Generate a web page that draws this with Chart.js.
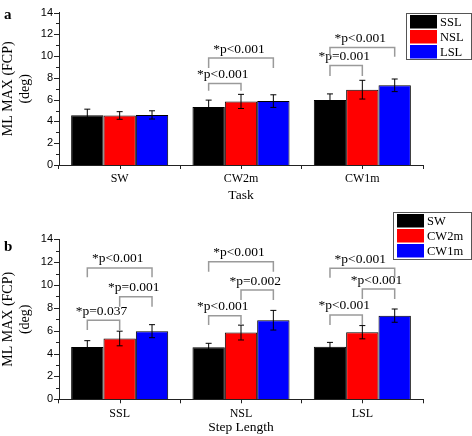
<!DOCTYPE html>
<html>
<head>
<meta charset="utf-8">
<script src="https://cdn.jsdelivr.net/npm/chart.js@4.4.1/dist/chart.umd.min.js"></script>
<style>
  body { margin: 0; background: #fff; }
  canvas { display: block; }
</style>
</head>
<body>
<canvas id="chartA" width="472" height="210"></canvas>
<canvas id="chartB" width="472" height="226"></canvas>
<script>
// ML MAX (FCP) in degrees
var tasks = ['SW', 'CW2m', 'CW1m'];
var stepLengths = ['SSL', 'NSL', 'LSL'];
var yTickLabels = [0, 2, 4, 6, 8, 10, 12, 14];

// means and SD per step length, across tasks SW, CW2m, CW1m
var sslMean = [4.58, 5.32, 5.96];
var nslMean = [4.55, 5.84, 6.92];
var lslMean = [4.60, 5.87, 7.32];
var sslErr = [0.55, 0.64, 0.57];
var nslErr = [0.35, 0.65, 0.86];
var lslErr = [0.38, 0.58, 0.58];

// significance brackets: [group, fromBar, toBar, level, leftLegEnd, rightLegEnd, text]
var bracketsA = [
    [1, 0, 1, 7.48, 6.81, 6.81, '*p<0.001'],
    [1, 0, 2, 9.82, 8.90, 8.90, '*p<0.001'],
    [2, 0, 1, 9.14, 8.18, 8.18, '*p=0.001'],
    [2, 0, 2, 10.8, 10.0, 9.95, '*p<0.001']
];
var bracketsB = [
    [0, 0, 1, 6.91, 6.06, 6.06, '*p=0.037'],
    [0, 1, 2, 8.98, 8.10, 8.10, '*p=0.001'],
    [0, 0, 2, 11.49, 10.67, 10.67, '*p<0.001'],
    [1, 0, 1, 7.31, 6.50, 6.50, '*p<0.001'],
    [1, 1, 2, 9.56, 8.69, 8.69, '*p=0.002'],
    [1, 0, 2, 12.04, 11.16, 11.16, '*p<0.001'],
    [2, 0, 1, 7.38, 6.50, 6.50, '*p<0.001'],
    [2, 1, 2, 9.65, 8.78, 8.78, '*p<0.001'],
    [2, 0, 2, 11.46, 10.64, 10.64, '*p<0.001']
];

var colors = ['#000000', '#ff0000', '#0000ff'];
var serif = "'Liberation Serif', 'Times New Roman', serif";

function col(rows, j) {
    return rows.map(function (r) { return r[j]; });
}

// draws error bars, brackets, extra ticks, legend and panel letter
var extras = {
    id: 'extras',
    afterDatasetsDraw: function (chart, args, o) {
        var ctx = chart.ctx, y = chart.scales.y, x = chart.scales.x;
        ctx.save();
        ctx.strokeStyle = '#000';
        ctx.lineWidth = 1;
        chart.data.datasets.forEach(function (ds, i) {
            chart.getDatasetMeta(i).data.forEach(function (bar, j) {
                var t = y.getPixelForValue(ds.data[j] + ds.errors[j]);
                var b = y.getPixelForValue(ds.data[j] - ds.errors[j]);
                ctx.beginPath();
                ctx.moveTo(bar.x, t); ctx.lineTo(bar.x, b);
                ctx.moveTo(bar.x - 3, t); ctx.lineTo(bar.x + 3, t);
                ctx.moveTo(bar.x - 3, b); ctx.lineTo(bar.x + 3, b);
                ctx.stroke();
            });
        });

        // significance brackets
        ctx.strokeStyle = '#9a9a9a';
        ctx.lineWidth = 1.5;
        ctx.fillStyle = '#000';
        ctx.font = '13.5px ' + serif;
        ctx.textAlign = 'center';
        ctx.textBaseline = 'alphabetic';
        o.brackets.forEach(function (br) {
            var x1 = chart.getDatasetMeta(br[1]).data[br[0]].x;
            var x2 = chart.getDatasetMeta(br[2]).data[br[0]].x;
            var ly = y.getPixelForValue(br[3]);
            ctx.beginPath();
            ctx.moveTo(x1, y.getPixelForValue(br[4]));
            ctx.lineTo(x1, ly);
            ctx.lineTo(x2, ly);
            ctx.lineTo(x2, y.getPixelForValue(br[5]));
            ctx.stroke();
            ctx.fillText(br[6], (x1 + x2) / 2 - 2, ly - 5.5);
        });

        // y ticks: long on even values, short on odd
        ctx.strokeStyle = '#222';
        ctx.lineWidth = 1;
        for (var v = 0; v <= 14; v++) {
            var py = Math.round(y.getPixelForValue(v)) + 0.5;
            var len = v % 2 ? 3 : 5;
            ctx.beginPath();
            ctx.moveTo(y.right - len, py);
            ctx.lineTo(y.right, py);
            ctx.stroke();
        }
        // x ticks at category centres
        chart.data.labels.forEach(function (l, i) {
            var px = Math.round(x.getPixelForValue(i)) + 0.5;
            ctx.beginPath();
            ctx.moveTo(px, x.top);
            ctx.lineTo(px, x.top + 4);
            ctx.stroke();
        });

        // legend box
        var L = o.legend;
        ctx.fillStyle = '#fff';
        ctx.fillRect(L.x, L.y, L.w, L.h);
        ctx.strokeStyle = '#555';
        ctx.strokeRect(L.x + 0.5, L.y + 0.5, L.w, L.h);
        ctx.font = '12.5px ' + serif;
        ctx.textAlign = 'left';
        ctx.textBaseline = 'middle';
        chart.data.datasets.forEach(function (ds, i) {
            var sy = L.y + 2 + i * 15;
            ctx.fillStyle = ds.backgroundColor;
            ctx.fillRect(L.x + 4, sy, 27, 13.5);
            ctx.fillStyle = '#000';
            ctx.fillText(ds.label, L.x + 34, sy + 7.5);
        });

        // panel letter
        ctx.font = 'bold 15px ' + serif;
        ctx.fillText(o.letter, 4, o.letterY);
        ctx.restore();
    }
};

function makePanel(id, labels, names, means, errs, brackets, xTitle, lay) {
    var datasets = names.map(function (n, i) {
        return {
            label: n,
            data: means[i],
            errors: errs[i],
            backgroundColor: colors[i],
            borderColor: '#000',
            borderWidth: 1,
            categoryPercentage: 0.8,
            barPercentage: 1.0
        };
    });
    return new Chart(document.getElementById(id), {
        type: 'bar',
        data: { labels: labels, datasets: datasets },
        plugins: [extras],
        options: {
            responsive: false,
            animation: false,
            layout: { padding: { left: 0, top: lay.top, right: 49, bottom: 0 } },
            plugins: {
                legend: { display: false },
                tooltip: { enabled: false },
                extras: { brackets: brackets, legend: lay.legend, letter: lay.letter, letterY: lay.letterY }
            },
            scales: {
                x: {
                    afterFit: function (s) { s.height = lay.xHeight; },
                    grid: { display: true, drawOnChartArea: false, offset: true, tickLength: 4, color: '#222' },
                    border: { color: '#222', width: 1 },
                    ticks: { color: '#000', padding: 3, font: { family: serif, size: 12 } },
                    title: { display: true, text: xTitle, color: '#000', font: { family: serif, size: 13.5 },
                             padding: { top: 0, bottom: lay.titlePad } }
                },
                y: {
                    min: 0,
                    max: 14,
                    afterFit: function (s) { s.width = 59; },
                    grid: { display: false, drawTicks: false },
                    border: { color: '#222', width: 1 },
                    ticks: {
                        stepSize: 1,
                        padding: 6,
                        color: '#000',
                        font: { family: "'Liberation Sans', Arial, sans-serif", size: 11 },
                        callback: function (v) { return yTickLabels.indexOf(v) >= 0 ? v : ''; }
                    },
                    title: { display: true, text: ['ML MAX (FCP)', '(deg)'], color: '#000',
                             font: { family: serif, size: 14 }, padding: { top: 0, bottom: 0 } }
                }
            }
        }
    });
}

document.addEventListener('DOMContentLoaded', function () {
    // panel a: groups are tasks, bars are step lengths
    makePanel('chartA', tasks, stepLengths,
        [sslMean, nslMean, lslMean], [sslErr, nslErr, lslErr],
        bracketsA, 'Task',
        { top: 5, xHeight: 45, titlePad: 6.2, letter: 'a', letterY: 15,
          legend: { x: 406, y: 13, w: 65, h: 46 } });

    // panel b: groups are step lengths, bars are tasks
    var rowsM = [sslMean, nslMean, lslMean];
    var rowsE = [sslErr, nslErr, lslErr];
    makePanel('chartB', stepLengths, tasks,
        [col(rowsM, 0), col(rowsM, 1), col(rowsM, 2)],
        [col(rowsE, 0), col(rowsE, 1), col(rowsE, 2)],
        bracketsB, 'Step Length',
        { top: 29.3, xHeight: 36.7, titlePad: 0, letter: 'b', letterY: 36.7,
          legend: { x: 393, y: 2, w: 78, h: 47 } });
});
</script>
</body>
</html>
